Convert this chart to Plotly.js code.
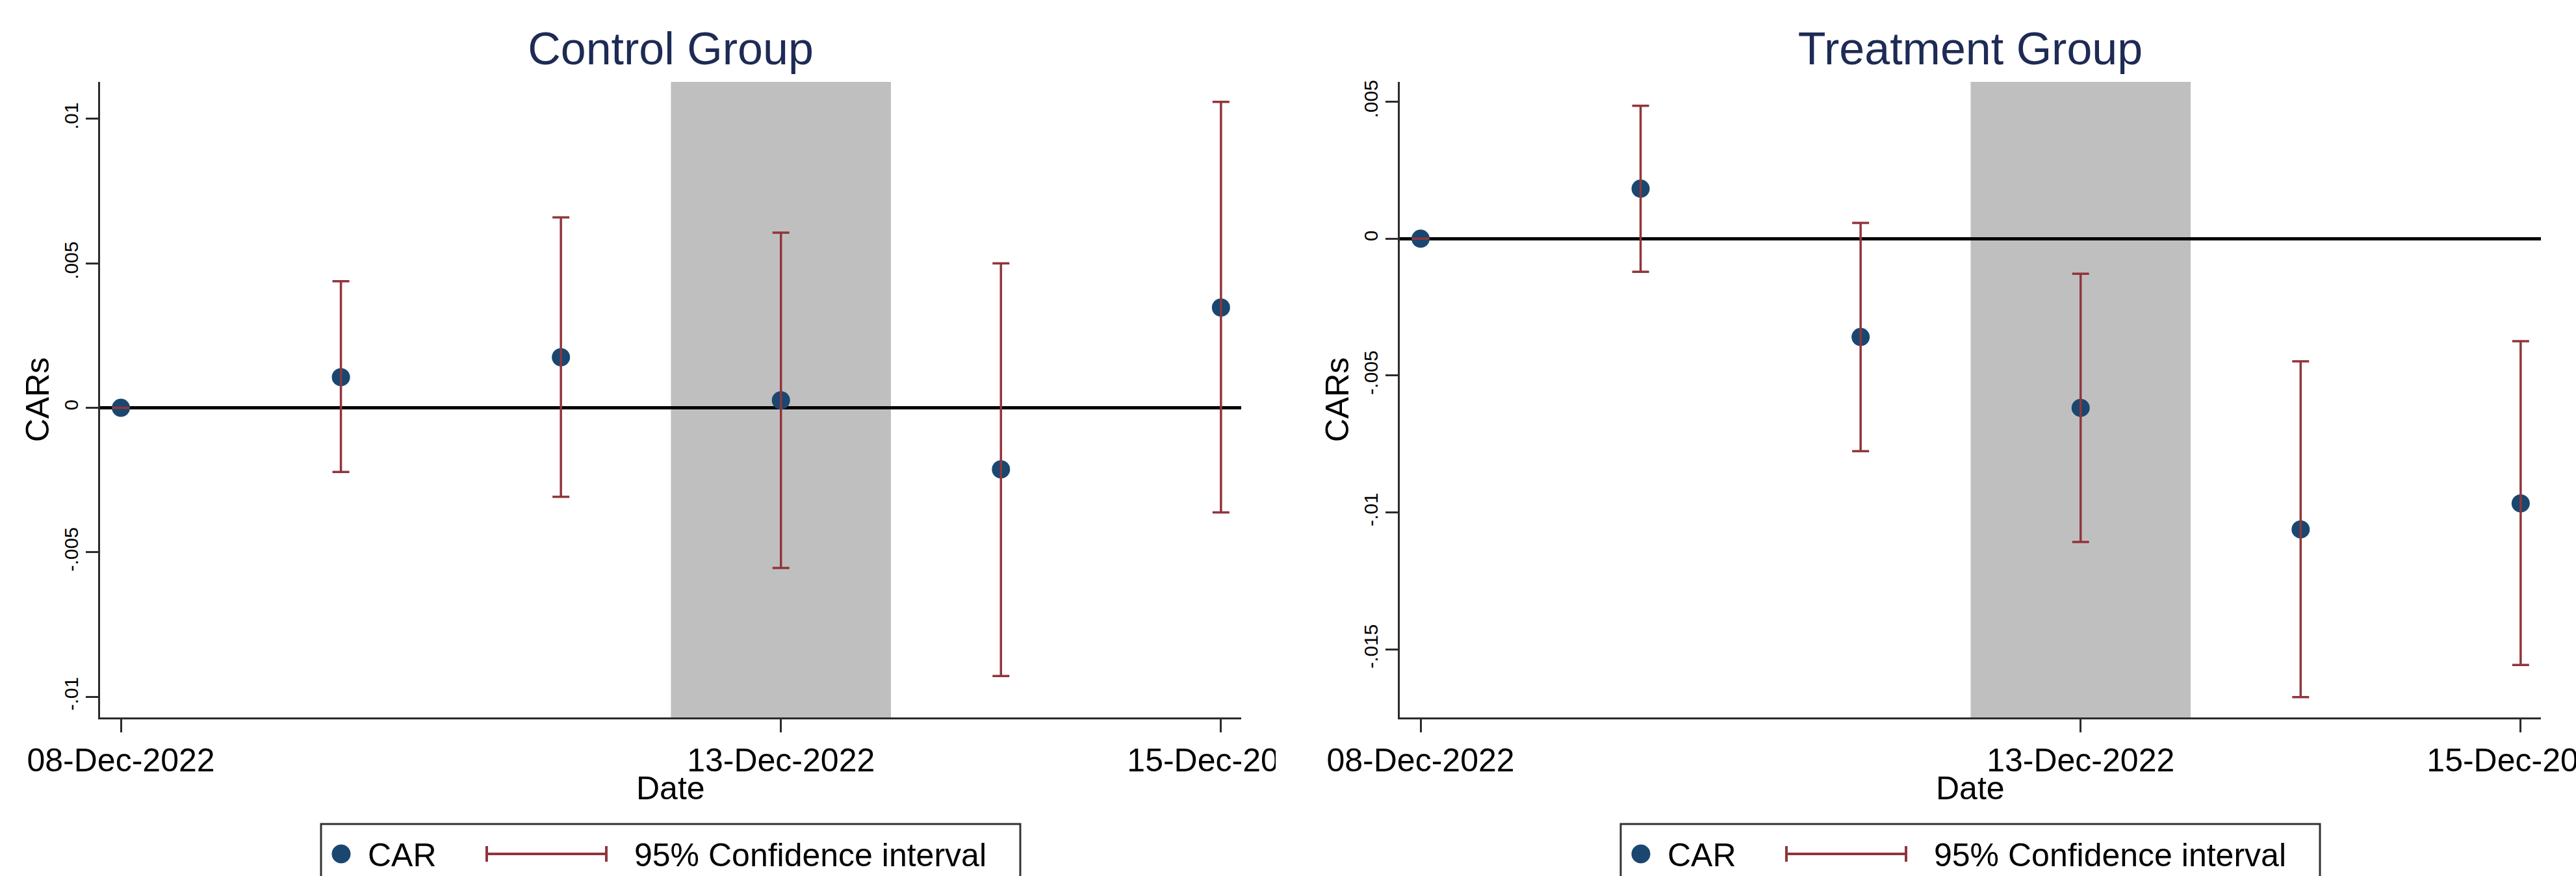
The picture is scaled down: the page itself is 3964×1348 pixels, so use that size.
<!DOCTYPE html>
<html><head><meta charset="utf-8">
<script src="https://cdn.plot.ly/plotly-3.0.1.min.js"></script>
<style>
html,body{margin:0;padding:0;background:#fff;}
#wrap{position:relative;width:3964px;height:1348px;overflow:hidden;background:#fff;}
#g1{position:absolute;left:0;top:0;width:1963px;height:1348px;overflow:hidden;}
#g2{position:absolute;left:2000px;top:0;width:1964px;height:1348px;overflow:hidden;}
</style></head><body>
<div id="wrap"><div id="g1"></div><div id="g2"></div></div>
<script>
// ---- data ----
const dates = ['08-Dec-2022','09-Dec-2022','12-Dec-2022','13-Dec-2022','14-Dec-2022','15-Dec-2022'];
const tickDates = ['08-Dec-2022','13-Dec-2022','15-Dec-2022'];
const eventDate = '13-Dec-2022';

const controlCAR = [0, 0.00106, 0.00175, 0.00026, -0.00213, 0.00347];
const controlLo  = [0, -0.00222, -0.00308, -0.00554, -0.00928, -0.00362];
const controlHi  = [0, 0.00438, 0.00659, 0.00606, 0.00500, 0.01059];

const treatCAR = [0, 0.00183, -0.00359, -0.00618, -0.01062, -0.00967];
const treatLo  = [0, -0.00121, -0.00776, -0.01108, -0.01675, -0.01557];
const treatHi  = [0, 0.00486, 0.00058, -0.00128, -0.00448, -0.00374];

const controlYTicks = [-0.01, -0.005, 0, 0.005, 0.01];
const controlYText  = ['-.01', '-.005', '0', '.005', '.01'];
const treatYTicks = [-0.015, -0.01, -0.005, 0, 0.005];
const treatYText  = ['-.015', '-.01', '-.005', '0', '.005'];

const xTitle = 'Date';
const yTitle = 'CARs';
const legendLabels = ['CAR', '95% Confidence interval'];

// ---- style ----
const FONT = 'Liberation Sans, Arial, Helvetica, sans-serif';
const NAVY = '#1a476f';
const MAROON = '#90353b';
const AXC = '#2b2b2b';

function makePanel(div, title, car, lo, hi, yr, yt, ytt, W) {
  const H = 1348, L = 154, T = 126, B = 244, R = W - 1910;
  const pw = W - L - R, ph = H - T - B;
  const px = v => (v - L) / pw;
  const py = v => (H - B - v) / ph;
  const ev = dates.indexOf(eventDate);
  const legY = 1314;

  const traces = [
    {x: dates, y: car, type: 'scatter', mode: 'markers',
     marker: {size: 28, color: NAVY, line: {width: 0}}, showlegend: false, hoverinfo: 'skip'},
    {x: dates, y: car, type: 'scatter', mode: 'markers',
     marker: {size: 1, opacity: 0}, showlegend: false, hoverinfo: 'skip',
     error_y: {type: 'data', symmetric: false,
       array: hi.map((h, i) => h - car[i]),
       arrayminus: lo.map((l, i) => car[i] - l),
       color: MAROON, thickness: 3.5, width: 13}}
  ];

  const shapes = [
    {type: 'rect', xref: 'x', yref: 'paper', x0: ev - 0.5, x1: ev + 0.5, y0: 0, y1: 1,
     fillcolor: '#bfbfbf', line: {width: 0}, layer: 'below'},
    // legend box
    {type: 'rect', xref: 'paper', yref: 'paper', x0: px(494), x1: px(1570), y0: py(1268), y1: py(1420),
     line: {color: '#333333', width: 3}, fillcolor: 'rgba(0,0,0,0)', layer: 'above'},
    {type: 'circle', xref: 'paper', yref: 'paper', x0: px(510.5), x1: px(539.5), y0: py(legY - 14.5), y1: py(legY + 14.5),
     fillcolor: NAVY, line: {width: 0}, layer: 'above'},
    {type: 'line', xref: 'paper', yref: 'paper', x0: px(748), x1: px(934), y0: py(legY), y1: py(legY),
     line: {color: MAROON, width: 4}, layer: 'above'},
    {type: 'line', xref: 'paper', yref: 'paper', x0: px(749), x1: px(749), y0: py(legY - 12), y1: py(legY + 12),
     line: {color: MAROON, width: 4}, layer: 'above'},
    {type: 'line', xref: 'paper', yref: 'paper', x0: px(933), x1: px(933), y0: py(legY - 12), y1: py(legY + 12),
     line: {color: MAROON, width: 4}, layer: 'above'}
  ];

  const annotations = [
    {text: xTitle, xref: 'paper', yref: 'paper', x: 0.5, y: py(1213), xanchor: 'center', yanchor: 'middle',
     showarrow: false, font: {family: FONT, size: 50, color: '#000'}},
    {text: legendLabels[0], xref: 'paper', yref: 'paper', x: px(564), y: py(legY + 2), xanchor: 'left', yanchor: 'middle',
     showarrow: false, font: {family: FONT, size: 50, color: '#000'}},
    {text: legendLabels[1], xref: 'paper', yref: 'paper', x: px(974), y: py(legY + 2), xanchor: 'left', yanchor: 'middle',
     showarrow: false, font: {family: FONT, size: 50, color: '#000'}}
  ];

  const layout = {
    width: W, height: H,
    margin: {l: L, r: R, t: T, b: B, pad: 0},
    paper_bgcolor: '#ffffff', plot_bgcolor: '#ffffff',
    font: {family: FONT, color: '#000'},
    title: {text: title, x: 0.5, xref: 'paper', xanchor: 'center', y: 1 - 74 / H, yref: 'container', yanchor: 'middle',
            font: {family: FONT, size: 70, color: '#1d2b55'}},
    xaxis: {type: 'category', range: [-0.0946, 5.092], tickmode: 'array', tickvals: tickDates, ticktext: tickDates,
            ticks: 'outside', ticklen: 20, tickwidth: 3, tickcolor: AXC,
            showline: true, linewidth: 3, linecolor: AXC, showgrid: false, zeroline: false,
            tickfont: {family: FONT, size: 50, color: '#000'}},
    yaxis: {range: yr, tickmode: 'array', tickvals: yt, ticktext: ytt, tickangle: -90,
            ticks: 'outside', ticklen: 19, tickwidth: 3, tickcolor: AXC,
            showline: true, linewidth: 3, linecolor: AXC, showgrid: false,
            zeroline: true, zerolinecolor: '#000', zerolinewidth: 4.5,
            tickfont: {family: FONT, size: 30, color: '#000'},
            title: {text: yTitle, font: {family: FONT, size: 50, color: '#000'}, standoff: 2}},
    shapes: shapes, annotations: annotations, showlegend: false
  };
  Plotly.newPlot(div, traces, layout, {staticPlot: true, displayModeBar: false});
}

makePanel('g1', 'Control Group', controlCAR, controlLo, controlHi, [-0.010715, 0.01128], controlYTicks, controlYText, 1963);
makePanel('g2', 'Treatment Group', treatCAR, treatLo, treatHi, [-0.01749, 0.005731], treatYTicks, treatYText, 1964);
</script>
</body></html>
